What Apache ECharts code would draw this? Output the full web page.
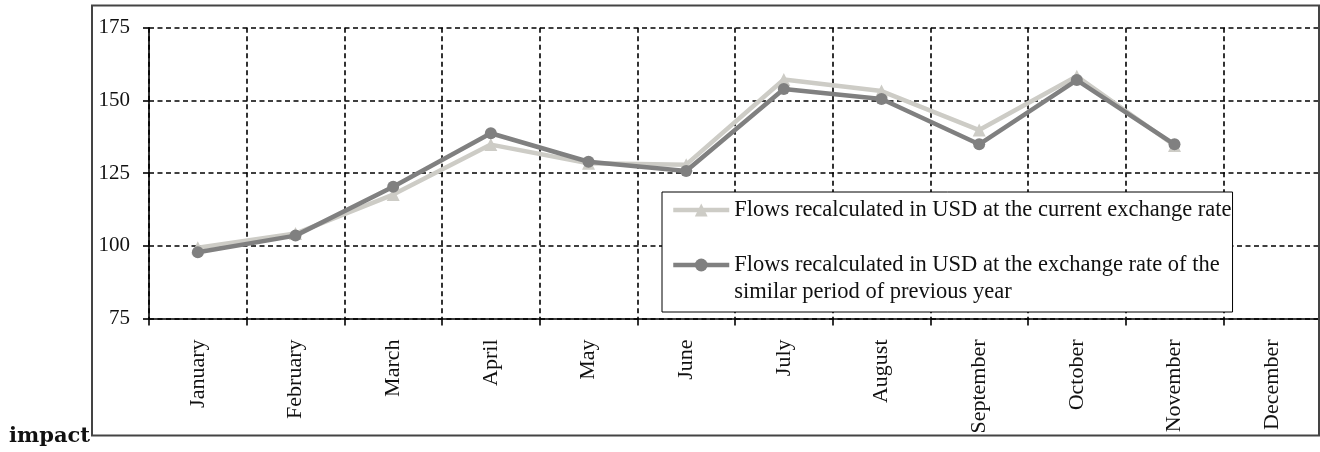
<!DOCTYPE html>
<html>
<head>
<meta charset="utf-8">
<script src="https://cdn.jsdelivr.net/npm/echarts@6/dist/echarts.min.js"></script>
<style>
html,body{margin:0;padding:0;background:#fff;}
#chart{width:1320px;height:452px;}
</style>
</head>
<body>
<div id="chart"></div>
<script>
const categories = ['January','February','March','April','May','June','July','August','September','October','November','December'];
const currentRate = [99.3, 104.2, 117.6, 134.8, 128.4, 127.9, 157.2, 153.2, 139.8, 158.3, 134.5, null];
const previousRate = [97.8, 103.5, 120.3, 138.7, 128.9, 125.7, 153.9, 150.5, 134.9, 157.0, 134.9, null];
const yMin = 75, yMax = 175, yStep = 25;
const nameCurrent = 'Flows recalculated in USD at the current exchange rate';
const namePrevious = 'Flows recalculated in USD at the exchange rate of the\nsimilar period of previous year';
const sideLabel = 'impact';

const serif = '"Liberation Serif", "Times New Roman", serif';
const chart = echarts.init(document.getElementById('chart'), null, {renderer: 'canvas'});
chart.setOption({
  animation: false,
  backgroundColor: '#fff',
  grid: {left: 149, top: 27.7, width: 1172, height: 290.8, containLabel: false, outerBoundsMode: 'none'},
  graphic: [
    {type: 'rect', shape: {x: 92, y: 5.5, width: 1227, height: 430}, style: {fill: 'none', stroke: '#444', lineWidth: 2}, z: 10, silent: true},
    {type: 'text', left: 9, top: 426, style: {text: sideLabel, font: 'bold 21px "DejaVu Serif", serif', fill: '#111'}, silent: true}
  ],
  legend: {
    orient: 'vertical',
    left: 662, top: 192,
    padding: [4.5, 1, 6.5, 9],
    itemGap: 1,
    itemWidth: 56, itemHeight: 16,
    backgroundColor: '#fff',
    borderColor: '#000', borderWidth: 1,
    lineStyle: {width: 4.5},
    textStyle: {fontFamily: serif, fontSize: 22.5, color: '#111', lineHeight: 27},
    formatter: function (name) { return name === namePrevious ? '\n' + name : name; },
    data: [nameCurrent, namePrevious]
  },
  xAxis: {
    type: 'category',
    data: categories,
    boundaryGap: true,
    axisLine: {lineStyle: {color: '#000', width: 1.6}},
    axisTick: {show: true, length: 7, inside: false, lineStyle: {color: '#000', width: 1.6}},
    axisLabel: {rotate: 90, margin: 21, fontFamily: serif, fontSize: 22, color: '#111', interval: 0},
    splitLine: {show: true, lineStyle: {color: '#000', type: [5, 3.5], width: 1.6}}
  },
  yAxis: {
    type: 'value',
    min: yMin, max: yMax, interval: yStep,
    axisLine: {show: true, lineStyle: {color: '#000', width: 1.6}},
    axisTick: {show: true, length: 6, lineStyle: {color: '#000', width: 1.6}},
    axisLabel: {margin: 19, fontFamily: serif, fontSize: 21, color: '#111'},
    splitLine: {show: true, lineStyle: {color: '#000', type: [5, 3.5], width: 1.6}}
  },
  series: [
    {
      name: nameCurrent, type: 'line', data: currentRate,
      symbol: 'triangle', symbolSize: 13,
      itemStyle: {color: '#cdccc6'},
      lineStyle: {color: '#cdccc6', width: 4.5},
      z: 3
    },
    {
      name: namePrevious, type: 'line', data: previousRate,
      symbol: 'circle', symbolSize: 12,
      itemStyle: {color: '#808080'},
      lineStyle: {color: '#808080', width: 4.5},
      z: 4
    }
  ]
});
</script>
</body>
</html>
